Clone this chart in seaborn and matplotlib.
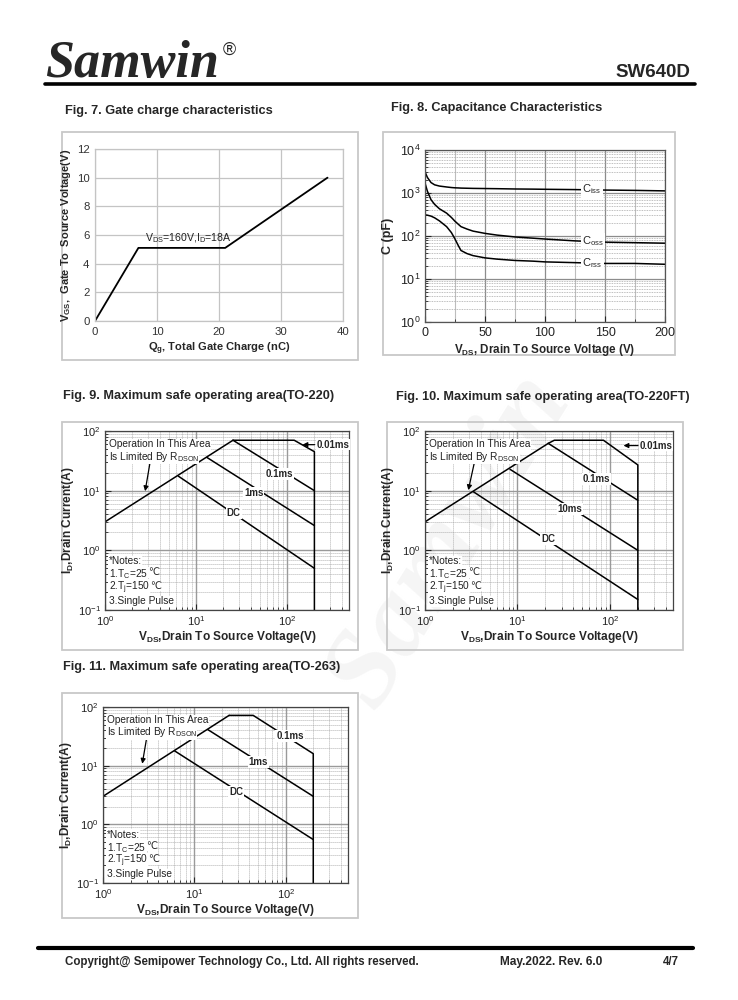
import numpy as np
import pandas as pd
import matplotlib
matplotlib.use("Agg")
import matplotlib.pyplot as plt
import seaborn as sns
from matplotlib.patches import Rectangle
from matplotlib.lines import Line2D
from matplotlib.ticker import LogLocator, NullFormatter, MultipleLocator, FixedLocator

# ---------------- data ----------------
# Fig. 7 gate charge
qg_nc = [0, 7, 21, 37.5]
vgs_v = [0, 5.1, 5.1, 10]

# Fig. 8 capacitance
cap_vds = [0, 2, 5, 8, 12, 18, 22, 25, 28, 30, 35, 40, 50, 60, 75, 90, 100, 125, 150, 175, 200]
ciss_pf = [3100, 2300, 1750, 1550, 1450, 1380, 1340, 1320, 1310, 1300, 1290, 1280, 1270, 1260, 1240, 1230, 1220, 1200, 1170, 1150, 1120]
coss_pf = [1700, 1100, 700, 545, 430, 340, 270, 220, 185, 165, 145, 130, 115, 105, 95, 89, 85, 77, 72, 70, 68]
crss_pf = [310, 305, 290, 265, 225, 165, 120, 85, 58, 46, 39, 35, 31, 29, 27, 26, 25, 24, 23, 23, 22]

# Fig. 9 SOA TO-220
f9_rdson_v = [1, 25.5]
f9_rdson_i = [3.0, 70]
f9_env_v = [25.5, 120, 200, 200]
f9_env_i = [70, 70, 45, 0.1]
f9_01ms_v = [25.5, 200]
f9_01ms_i = [70, 10]
f9_1ms_v = [13.2, 200]
f9_1ms_i = [36, 2.6]
f9_dc_v = [6.4, 200]
f9_dc_i = [17.5, 0.5]

# Fig. 10 SOA TO-220FT
f10_rdson_v = [1, 21.5]
f10_rdson_i = [3.0, 62]
f10_env_v = [21.5, 25, 85, 200, 200]
f10_env_i = [62, 70, 70, 27, 0.1]
f10_01ms_v = [21.5, 200]
f10_01ms_i = [62, 6.9]
f10_10ms_v = [8.3, 200]
f10_10ms_i = [22.8, 1.0]
f10_dc_v = [3.33, 200]
f10_dc_i = [9.6, 0.15]

# Fig. 11 SOA TO-263
f11_rdson_v = [1, 24]
f11_rdson_i = [3.0, 72]
f11_env_v = [24, 44, 200, 200]
f11_env_i = [72, 72, 16, 0.1]
f11_1ms_v = [14.1, 200]
f11_1ms_i = [41, 3.0]
f11_dc_v = [6.1, 200]
f11_dc_i = [17.8, 0.55]

DEG_C = "\u2103"

# ---------------- style ----------------
sns.set_style("white")
plt.rcParams["font.family"] = ["Liberation Sans", "DejaVu Sans"]
plt.rcParams["mathtext.fontset"] = "custom"
plt.rcParams["mathtext.rm"] = "Liberation Sans"
plt.rcParams["mathtext.it"] = "Liberation Sans:italic"
plt.rcParams["mathtext.bf"] = "Liberation Sans:bold"
plt.rcParams["axes.facecolor"] = "none"

W, H = 738, 1000
fig = plt.figure(figsize=(W / 100, H / 100), dpi=100)
fig.patch.set_facecolor("white")


def px_axes(x0, y0, x1, y1):
    return fig.add_axes([x0 / W, 1 - y1 / H, (x1 - x0) / W, (y1 - y0) / H])


def panel(x0, y0, x1, y1):
    fig.add_artist(Rectangle((x0 / W, 1 - y1 / H), (x1 - x0) / W, (y1 - y0) / H,
                             transform=fig.transFigure, fill=False,
                             edgecolor="#c8c8c8", lw=1.3, zorder=0))


def ftext(x, y, s, **kw):
    return fig.text(x / W, 1 - y / H, s, **kw)


def draw(ax, x, y, lw=1.1):
    sns.lineplot(x=x, y=y, ax=ax, color="black", lw=lw, sort=False,
                 estimator=None, legend=False)


# watermark (very faint, behind everything)
ftext(450, 540, "Samwin", rotation=58, fontsize=80, color="#f5f5f5",
      family="Liberation Serif", style="italic", weight="bold",
      ha="center", va="center", zorder=-5)

# header
ftext(45, 77, "Samwin", family="Liberation Serif", style="italic",
      weight="bold", fontsize=37.5, va="baseline")
ftext(223, 55, "\u00ae", fontsize=13, va="baseline")
ftext(690, 77, "SW640D", fontsize=13.5, weight="bold", ha="right", va="baseline")
fig.add_artist(Line2D([45 / W, 695 / W], [1 - 84 / H] * 2, lw=2.6, color="black"))

# footer
fig.add_artist(Line2D([38 / W, 693 / W], [1 - 948 / H] * 2, lw=3, color="black"))
ftext(65, 965, "Copyright@ Semipower Technology Co., Ltd. All rights reserved.",
      fontsize=8.3, weight="bold", va="baseline")
ftext(500, 965, "May.2022. Rev. 6.0", fontsize=8.6, weight="bold", va="baseline")
ftext(663, 965, "4/7", fontsize=8.3, weight="bold", va="baseline")

# titles
tkw = dict(fontsize=9.2, weight="bold", va="center")
ftext(65, 111, "Fig. 7. Gate charge characteristics", **tkw)
ftext(391, 108, "Fig. 8. Capacitance Characteristics", **tkw)
ftext(63, 396, "Fig. 9. Maximum safe operating area(TO-220)", **tkw)
ftext(396, 397, "Fig. 10. Maximum safe operating area(TO-220FT)", **tkw)
ftext(63, 667, "Fig. 11. Maximum safe operating area(TO-263)", **tkw)

# panels
panel(62, 132, 358, 360)
panel(383, 132, 675, 355)
panel(62, 422, 358, 650)
panel(387, 422, 683, 650)
panel(62, 693, 358, 918)

# ---------------- Fig. 7 ----------------
ax7 = px_axes(95, 149, 343, 321)
draw(ax7, qg_nc, vgs_v, lw=1.3)
ax7.set_xlim(0, 40)
ax7.set_ylim(0, 12)
ax7.xaxis.set_major_locator(MultipleLocator(10))
ax7.yaxis.set_major_locator(MultipleLocator(2))
ax7.grid(True, color="#c4c4c4", lw=0.9)
for s in ax7.spines.values():
    s.set_color("#c4c4c4")
    s.set_linewidth(0.9)
ax7.tick_params(length=0, labelsize=8.2, labelcolor="#333333", pad=4)
ax7.set_xlabel(r"$\mathbf{Q_g}$, Total Gate Charge (nC)", fontsize=8, weight="bold", labelpad=3)
ax7.set_ylabel(r"$\mathbf{V_{GS}}$,  Gate To  Source Voltage(V)", fontsize=8, weight="bold", labelpad=3)
ax7.text(8, 5.3, r"V$_{\mathrm{DS}}$=160V,I$_{\mathrm{D}}$=18A", fontsize=7.6,
         va="bottom", color="#222222")

# ---------------- Fig. 8 ----------------
ax8 = px_axes(425, 150, 665, 322)
for arr in (ciss_pf, coss_pf, crss_pf):
    draw(ax8, cap_vds, arr, lw=1.1)
ax8.set_yscale("log")
ax8.set_xlim(0, 200)
ax8.set_ylim(1, 1e4)
ax8.xaxis.set_major_locator(MultipleLocator(50))
ax8.xaxis.set_minor_locator(MultipleLocator(25))
ax8.yaxis.set_major_locator(LogLocator(base=10, numticks=10))
ax8.yaxis.set_minor_locator(LogLocator(base=10, subs=np.arange(2, 10), numticks=10))
ax8.yaxis.set_minor_formatter(NullFormatter())
ax8.grid(True, which="major", color="#8c8c8c", lw=0.9)
ax8.grid(True, which="minor", axis="x", color="#bdbdbd", lw=0.8)
ax8.grid(True, which="minor", axis="y", color="#a8a8a8", lw=0.6, ls=(0, (1, 1)))
for s in ax8.spines.values():
    s.set_color("#555555")
    s.set_linewidth(0.9)
ax8.tick_params(which="both", direction="in", labelsize=9, labelcolor="#222222",
                left=True, bottom=True, top=False, right=False)
ax8.tick_params(which="major", length=4)
ax8.tick_params(which="minor", length=2)
ax8.set_xlabel(r"$\mathbf{V_{DS}}$, Drain To Source Voltage (V)", fontsize=8.4, weight="bold", labelpad=2)
ax8.set_ylabel("C (pF)", fontsize=9, weight="bold", labelpad=4)
lbl_bbox = dict(fc="white", ec="none", pad=1.0)
ax8.text(131, 1200, r"C$_{\mathrm{iss}}$", fontsize=8, va="center", bbox=lbl_bbox, zorder=5)
ax8.text(131, 76, r"C$_{\mathrm{oss}}$", fontsize=8, va="center", bbox=lbl_bbox, zorder=5)
ax8.text(131, 23, r"C$_{\mathrm{rss}}$", fontsize=8, va="center", bbox=lbl_bbox, zorder=5)


# ---------------- SOA helper ----------------
def soa_axes(ax):
    ax.set_xscale("log")
    ax.set_yscale("log")
    ax.set_xlim(1, 480)
    ax.set_ylim(0.1, 100)
    for axis in (ax.xaxis, ax.yaxis):
        axis.set_major_locator(LogLocator(base=10, numticks=10))
        axis.set_minor_locator(LogLocator(base=10, subs=np.arange(2, 10), numticks=10))
        axis.set_minor_formatter(NullFormatter())
    ax.grid(True, which="major", color="#9a9a9a", lw=1.0)
    ax.grid(True, which="minor", color="#9a9a9a", lw=0.6, ls=(0, (1, 1.4)))
    for s in ax.spines.values():
        s.set_color("#444444")
        s.set_linewidth(0.9)
    ax.tick_params(which="both", direction="in", labelsize=8, labelcolor="#222222",
                   left=True, bottom=True, top=False, right=False)
    ax.tick_params(which="major", length=4, pad=3)
    ax.tick_params(which="minor", length=2)
    ax.set_xlabel(r"$\mathbf{V_{DS}}$,Drain To Source Voltage(V)", fontsize=8.6, weight="bold", labelpad=1)
    ax.set_ylabel(r"$\mathbf{I_D}$,Drain Current(A)", fontsize=8.6, weight="bold", labelpad=1)
    bb = dict(fc="white", ec="none", pad=0.4)
    tk = dict(fontsize=7.3, va="center", bbox=bb, color="#222222", zorder=4)
    ax.text(1.1, 60, "Operation In This Area", **tk)
    ax.text(1.1, 37, r"Is Limited By R$_{\mathrm{DSON}}$", **tk)
    ax.text(1.1, 0.66, "*Notes:", **tk)
    t1 = ax.text(1.1, 0.40, r"1.T$_{\mathrm{C}}$=25", **tk)
    t2 = ax.text(1.1, 0.235, r"2.T$_{\mathrm{j}}$=150", **tk)
    for t in (t1, t2):
        ax.annotate(DEG_C, xy=(1, 0.5), xycoords=t, xytext=(0.2, 1.3),
                    textcoords="offset points", ha="left", va="center",
                    fontsize=7, family="DejaVu Sans", color="#222222",
                    bbox=dict(fc="white", ec="none", pad=0.3), zorder=4)
    ax.text(1.1, 0.14, "3.Single Pulse", **tk)


def seg_label(ax, x, y, s):
    ax.text(x, y, s, fontsize=7, weight="bold", ha="center", va="center",
            bbox=dict(fc="white", ec="none", pad=0.6), zorder=5)


arrow_kw = dict(arrowstyle="-|>", color="black", lw=0.9, mutation_scale=7,
                shrinkA=0, shrinkB=0)

# ---------------- Fig. 9 ----------------
ax9 = px_axes(105, 431, 349, 610)
soa_axes(ax9)
for xv, yv in ((f9_rdson_v, f9_rdson_i), (f9_env_v, f9_env_i), (f9_01ms_v, f9_01ms_i),
               (f9_1ms_v, f9_1ms_i), (f9_dc_v, f9_dc_i)):
    draw(ax9, xv, yv)
seg_label(ax9, 82, 19, "0.1ms")
seg_label(ax9, 43, 9.1, "1ms")
seg_label(ax9, 26, 4.2, "DC")
ax9.annotate("", xy=(2.76, 9.8), xytext=(3.13, 30), arrowprops=arrow_kw)
ax9.annotate("0.01ms", xy=(148, 59), xytext=(210, 59), fontsize=7, weight="bold",
             va="center", arrowprops=dict(arrow_kw, shrinkA=1),
             bbox=dict(fc="white", ec="none", pad=0.3))

# ---------------- Fig. 10 ----------------
ax10 = px_axes(425, 431, 673, 610)
soa_axes(ax10)
for xv, yv in ((f10_rdson_v, f10_rdson_i), (f10_env_v, f10_env_i), (f10_01ms_v, f10_01ms_i),
               (f10_10ms_v, f10_10ms_i), (f10_dc_v, f10_dc_i)):
    draw(ax10, xv, yv)
seg_label(ax10, 72, 15.8, "0.1ms")
seg_label(ax10, 37, 4.9, "10ms")
seg_label(ax10, 21.5, 1.55, "DC")
ax10.annotate("", xy=(2.94, 10.2), xytext=(3.47, 33), arrowprops=arrow_kw)
ax10.annotate("0.01ms", xy=(140, 57), xytext=(210, 57), fontsize=7, weight="bold",
              va="center", arrowprops=dict(arrow_kw, shrinkA=1),
              bbox=dict(fc="white", ec="none", pad=0.3))

# ---------------- Fig. 11 ----------------
ax11 = px_axes(103, 707, 348, 883)
soa_axes(ax11)
for xv, yv in ((f11_rdson_v, f11_rdson_i), (f11_env_v, f11_env_i),
               (f11_1ms_v, f11_1ms_i), (f11_dc_v, f11_dc_i)):
    draw(ax11, xv, yv)
seg_label(ax11, 111, 31.6, "0.1ms")
seg_label(ax11, 50, 11.6, "1ms")
seg_label(ax11, 28.8, 3.6, "DC")
ax11.annotate("", xy=(2.69, 10.8), xytext=(3.03, 32), arrowprops=arrow_kw)

fig.savefig("out.png", dpi=100, facecolor="white")
